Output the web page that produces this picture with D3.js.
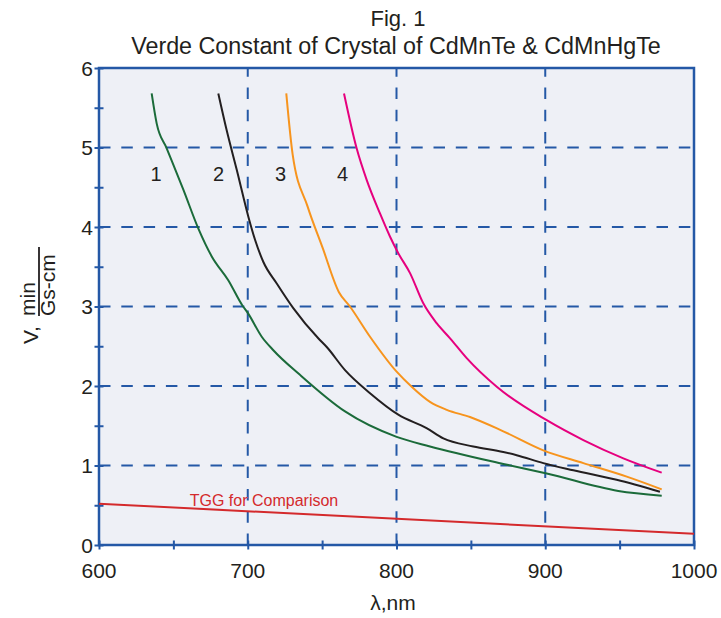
<!DOCTYPE html>
<html>
<head>
<meta charset="utf-8">
<script src="https://cdn.jsdelivr.net/npm/d3@7/dist/d3.min.js"></script>
<style>
  html, body { margin: 0; padding: 0; background: #ffffff; }
  svg { display: block; font-family: "Liberation Sans", Arial, sans-serif; }
</style>
</head>
<body>
<svg id="chart" width="721" height="618"></svg>
<script>
// ---- data ----
const titleLines = ["Fig. 1", "Verde Constant of Crystal of CdMnTe & CdMnHgTe"];
const xTicks = [600, 700, 800, 900, 1000];
const xMinorTicks = [650, 750, 850, 950];
const yTicks = [0, 1, 2, 3, 4, 5, 6];
const yMinorTicks = [0.5, 1.5, 2.5, 3.5, 4.5, 5.5];

const curve1 = [[635.4,5.68],[638.8,5.30],[645.5,4.99],[656.7,4.47],[666.8,3.98],[675.8,3.63],[686.9,3.33],[696.5,3.01],[700,2.92],[709.4,2.62],[717.2,2.45],[735.1,2.14],[765.4,1.68],[800.1,1.36],[822.5,1.24],[871.8,1.02],[901,0.90],[949.1,0.68],[978.3,0.62]];
const curve2 = [[680.2,5.68],[685.8,5.22],[692.6,4.72],[700.4,4.13],[704.9,3.84],[710.5,3.56],[719.5,3.29],[730.6,2.98],[747.4,2.60],[753.1,2.49],[765.4,2.20],[782.2,1.91],[801.2,1.64],[820.2,1.47],[831.5,1.34],[851.6,1.24],[871.8,1.17],[880.8,1.13],[898.7,1.03],[918.9,0.94],[948,0.82],[977.1,0.67]];
const curve3 = [[725.9,5.68],[730.2,4.91],[740.2,4.26],[750.3,3.74],[761.3,3.18],[768.7,3.00],[782.2,2.62],[800.1,2.18],[810.2,1.99],[822.5,1.80],[833.8,1.70],[849.4,1.61],[871.8,1.43],[898.7,1.19],[925.6,1.03],[954.8,0.86],[978.3,0.70]];
const curve4 = [[764.7,5.68],[773.2,4.99],[780,4.59],[788.9,4.17],[795.6,3.88],[801.2,3.67],[809.1,3.42],[818,3.04],[827,2.79],[836,2.60],[847.2,2.35],[867.4,1.99],[901,1.57],[925.6,1.32],[952.5,1.09],[978.3,0.91]];
const tgg = [[600,0.52],[1000,0.14]];

const seriesNames = ["1", "2", "3", "4"];
const tggLabel = "TGG for Comparison";

// ---- layout ----
const svg = d3.select("#chart");
const L = 99, R = 694, T = 68, B = 545;
const x = d3.scaleLinear().domain([600, 1000]).range([L, R]);
const y = d3.scaleLinear().domain([0, 6]).range([B, T]);

const blue = "#2458a6";
const ink = "#231f20";
const colors = ["#1b6b3a", "#231f20", "#f7941d", "#e6007e"];

// title
svg.append("text").attr("x", 398).attr("y", 26).attr("text-anchor", "middle")
  .attr("font-size", 22).attr("fill", ink).text(titleLines[0]);
svg.append("text").attr("x", 396).attr("y", 54).attr("text-anchor", "middle")
  .attr("font-size", 23.3).attr("fill", ink).text(titleLines[1]);

// plot background
svg.append("rect").attr("x", L).attr("y", T).attr("width", R - L).attr("height", B - T)
  .attr("fill", "#eef0f6");

// grid
const grid = svg.append("g").attr("stroke", blue).attr("stroke-width", 2)
  .attr("stroke-dasharray", "11.5,10.8").attr("fill", "none");
grid.selectAll("line.gx").data(xTicks.slice(1, -1)).enter().append("line")
  .attr("x1", d => x(d)).attr("x2", d => x(d)).attr("y1", B).attr("y2", T);
grid.selectAll("line.gy").data(yTicks.slice(1, -1)).enter().append("line")
  .attr("x1", L).attr("x2", R).attr("y1", d => y(d)).attr("y2", d => y(d));

// axes with ticks crossing the frame
const xAxis = svg.append("g").attr("transform", `translate(0,${B + 4.5})`)
  .call(d3.axisBottom(x).tickValues(xTicks.concat(xMinorTicks)).tickSize(9).tickFormat(""));
xAxis.select(".domain").remove();
xAxis.selectAll(".tick line").attr("stroke", blue).attr("stroke-width", 2).attr("transform", "translate(0,-9)");
const yAxis = svg.append("g").attr("transform", `translate(${L - 4.5},0)`)
  .call(d3.axisRight(y).tickValues(yTicks.concat(yMinorTicks)).tickSize(9).tickFormat(""));
yAxis.select(".domain").remove();
yAxis.selectAll(".tick line").attr("stroke", blue).attr("stroke-width", 2);

// tick labels
svg.append("g").selectAll("text").data(xTicks).enter().append("text")
  .attr("x", d => x(d)).attr("y", 578).attr("text-anchor", "middle")
  .attr("font-size", 21).attr("fill", ink).text(d => d);
svg.append("g").selectAll("text").data(yTicks).enter().append("text")
  .attr("x", 93).attr("y", d => y(d)).attr("dy", "0.36em").attr("text-anchor", "end")
  .attr("font-size", 21).attr("fill", ink).text(d => d);

// frame
svg.append("rect").attr("x", L).attr("y", T).attr("width", R - L).attr("height", B - T)
  .attr("fill", "none").attr("stroke", blue).attr("stroke-width", 2.5);

// TGG line
const lineGen = d3.line().x(d => x(d[0])).y(d => y(d[1])).curve(d3.curveMonotoneX);
svg.append("path").datum(tgg).attr("d", d3.line().x(d => x(d[0])).y(d => y(d[1])))
  .attr("fill", "none").attr("stroke", "#d42a2c").attr("stroke-width", 2);
svg.append("text").attr("x", 264).attr("y", 505.5).attr("text-anchor", "middle")
  .attr("font-size", 16).attr("fill", "#d42a2c").text(tggLabel);

// curves
[curve1, curve2, curve3, curve4].forEach((c, i) => {
  svg.append("path").datum(c).attr("d", lineGen)
    .attr("fill", "none").attr("stroke", colors[i]).attr("stroke-width", 2);
});

// curve numbers
svg.append("g").selectAll("text").data(seriesNames).enter().append("text")
  .attr("x", (d, i) => [156, 218.5, 280.5, 342.5][i]).attr("y", 181)
  .attr("text-anchor", "middle").attr("font-size", 20).attr("fill", ink).text(d => d);

// axis titles
svg.append("text").attr("x", 393).attr("y", 610).attr("text-anchor", "middle")
  .attr("font-size", 21).attr("fill", ink).text("λ,nm");

const yl = svg.append("g").attr("fill", ink).attr("font-size", 21);
yl.append("text").attr("transform", "translate(38,344) rotate(-90)").text("V,");
yl.append("text").attr("transform", "translate(35,316) rotate(-90)").text("min");
yl.append("text").attr("transform", "translate(55,316) rotate(-90)").text("Gs-cm");
yl.append("line").attr("x1", 39).attr("x2", 39).attr("y1", 316).attr("y2", 247)
  .attr("stroke", ink).attr("stroke-width", 1.8);
</script>
</body>
</html>
